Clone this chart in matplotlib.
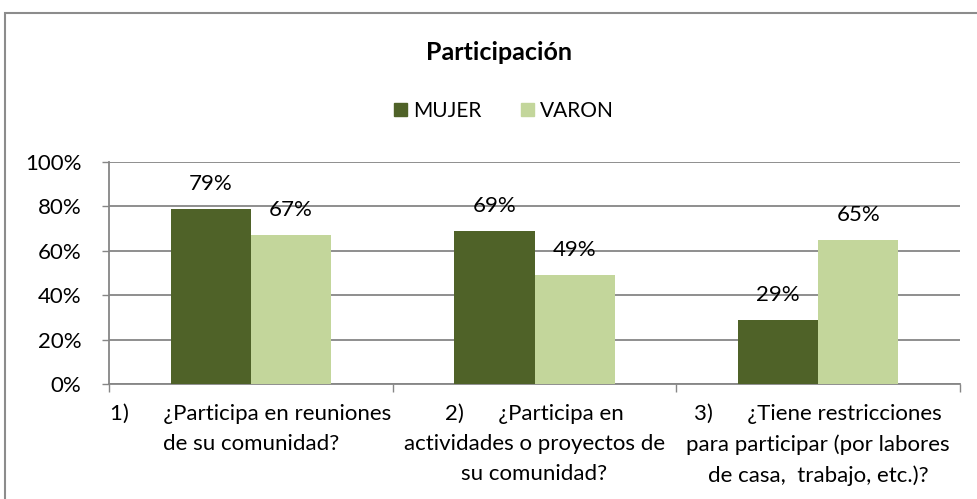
import matplotlib
matplotlib.use("Agg")
import matplotlib.pyplot as plt
from matplotlib.patches import Rectangle, Patch
import numpy as np

plt.rcParams['font.family'] = ['Lato', 'DejaVu Sans']

categories = [
    "1)      ¿Participa en reuniones\nde su comunidad?",
    "2)      ¿Participa en\nactividades o proyectos de\nsu comunidad?",
    "3)      ¿Tiene restricciones\npara participar (por labores\nde casa,  trabajo, etc.)?",
]
series_names = ["MUJER", "VARON"]
mujer = [0.79, 0.69, 0.29]
varon = [0.67, 0.49, 0.65]
yticks = [0, 0.2, 0.4, 0.6, 0.8, 1.0]
ytick_labels = ["0%", "20%", "40%", "60%", "80%", "100%"]
title = "Participación"

c_mujer = "#4F6228"
c_varon = "#C3D69B"
grid_c = "#868686"
FS = 16

W, H = 977, 499
fig = plt.figure(figsize=(W / 100, H / 100), dpi=100)
ax = fig.add_axes([109 / W, 1 - 384 / H, (960 - 109) / W, (384 - 162) / H])

x = np.arange(len(categories))
bw = 0.283
b1 = ax.bar(x - bw / 2, mujer, bw, color=c_mujer, zorder=3, label=series_names[0])
b2 = ax.bar(x + bw / 2, varon, bw, color=c_varon, zorder=3, label=series_names[1])

for bars, vals in ((b1, mujer), (b2, varon)):
    for b, v in zip(bars, vals):
        ax.annotate(f"{round(v * 100)}%", (b.get_x() + b.get_width() / 2, v),
                    xytext=(0, 18), textcoords="offset points",
                    ha="center", va="center", fontsize=FS, color="black", zorder=5)

ax.set_ylim(0, 1)
ax.set_xlim(-0.5, 2.5)
ax.set_yticks(yticks)
ax.set_yticklabels(ytick_labels, fontsize=FS)
ax.yaxis.grid(True, color=grid_c, linewidth=1.3, zorder=0)
ax.tick_params(axis="y", length=5, color=grid_c, width=1, pad=15)

ax.set_xticks([-0.5, 0.5, 1.5, 2.5])
ax.set_xticklabels([])
ax.tick_params(axis="x", length=6, color=grid_c, width=1)
ax.set_xticks(x, minor=True)
ax.set_xticklabels(categories, minor=True, fontsize=FS, linespacing=1.62, va="top")
ax.tick_params(axis="x", which="minor", length=0, pad=14)

for s in ["top", "right"]:
    ax.spines[s].set_visible(False)
for s in ["left", "bottom"]:
    ax.spines[s].set_color(grid_c)
    ax.spines[s].set_linewidth(1.3)

fig.text(499 / W, 1 - 52 / H, title, ha="center", va="center",
         fontsize=18, fontweight="bold")

handles = [Patch(color=c_mujer), Patch(color=c_varon)]
fig.legend(handles, series_names, loc="center", bbox_to_anchor=(504 / W, 1 - 111 / H),
           ncol=2, frameon=False, fontsize=15, handlelength=0.6, handleheight=0.6,
           handletextpad=0.3, columnspacing=1.9)

fig.patches.append(Rectangle((4.5 / W, -0.05), 1.2, 1 - 12.5 / H + 0.05,
                             transform=fig.transFigure, fill=False,
                             edgecolor="#8C8C8C", linewidth=1.5))

fig.savefig("out.png", dpi=100)
